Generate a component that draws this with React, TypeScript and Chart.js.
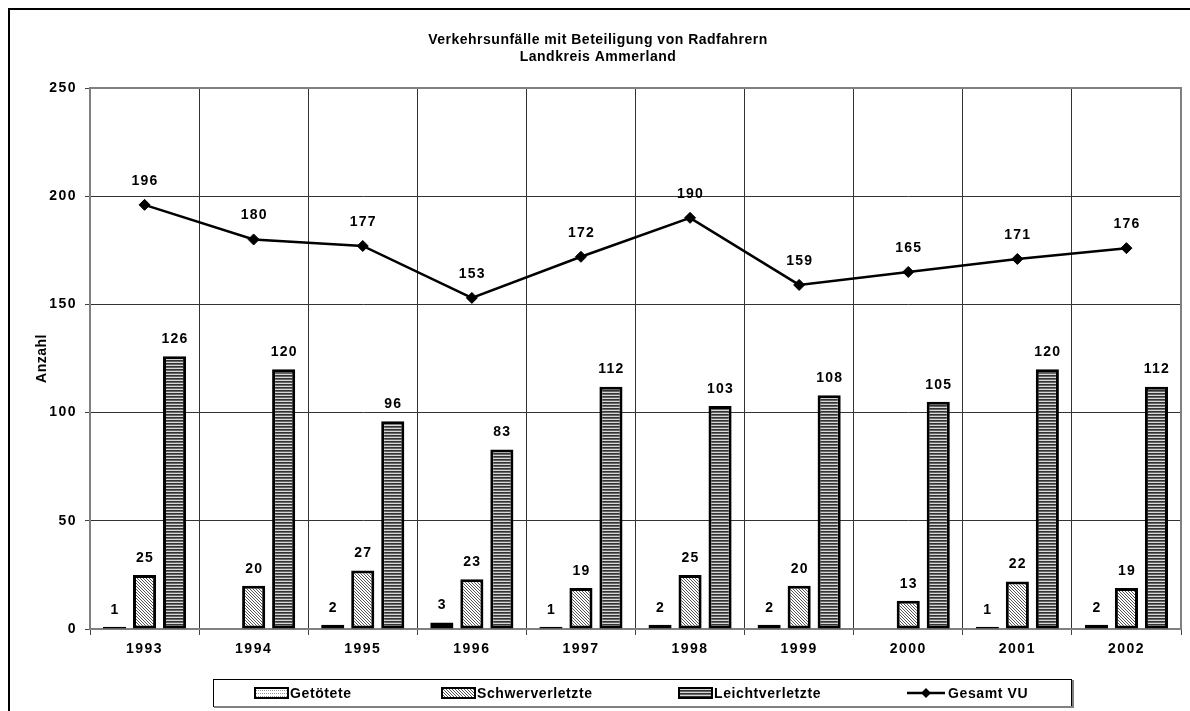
import React, { useEffect, useRef } from 'react';
import { Chart, registerables } from 'chart.js';

Chart.register(...registerables);

const years = ['1993', '1994', '1995', '1996', '1997', '1998', '1999', '2000', '2001', '2002'];
const getoetete: (number | null)[] = [1, null, 2, 3, 1, 2, 2, null, 1, 2];
const schwerverletzte = [25, 20, 27, 23, 19, 25, 20, 13, 22, 19];
const leichtverletzte = [126, 120, 96, 83, 112, 103, 108, 105, 120, 112];
const gesamtVU = [196, 180, 177, 153, 172, 190, 159, 165, 171, 176];
const seriesNames = ['Getötete', 'Schwerverletzte', 'Leichtverletzte', 'Gesamt VU'];
const titleLines = ['Verkehrsunfälle mit Beteiligung von Radfahrern', 'Landkreis Ammerland'];
const yAxisTitle = 'Anzahl';
const yMin = 0;
const yMax = 250;
const yStep = 50;

const FONT = '"Liberation Sans", Arial, sans-serif';

function makePattern(ctx: CanvasRenderingContext2D, kind: string): CanvasPattern | string {
  const c = document.createElement('canvas');
  const p = c.getContext('2d')!;
  if (kind === 'dots') {
    c.width = 4; c.height = 3;
    p.fillStyle = '#fff'; p.fillRect(0, 0, 4, 3);
    p.fillStyle = '#9a9a9a'; p.fillRect(0, 0, 1, 1); p.fillRect(2, 0, 1, 1);
  } else if (kind === 'diag') {
    c.width = 3; c.height = 3;
    p.fillStyle = '#fff'; p.fillRect(0, 0, 3, 3);
    p.fillStyle = '#555';
    for (let i = 0; i < 3; i++) p.fillRect(i, i, 1, 1);
  } else {
    c.width = 1; c.height = 3;
    p.fillStyle = '#333'; p.fillRect(0, 0, 1, 1);
    p.fillStyle = '#666'; p.fillRect(0, 1, 1, 1);
    p.fillStyle = '#d8d8d8'; p.fillRect(0, 2, 1, 1);
  }
  return ctx.createPattern(c, 'repeat') || '#888';
}

export default function App() {
  const ref = useRef<HTMLCanvasElement | null>(null);

  useEffect(() => {
    const canvas = ref.current!;
    const ctx0 = canvas.getContext('2d')!;
    const pDots = makePattern(ctx0, 'dots');
    const pDiag = makePattern(ctx0, 'diag');
    const pStripe = makePattern(ctx0, 'stripe');
    const fills = [pDots, pDiag, pStripe];

    const decor = {
      id: 'decor',
      beforeDraw(chart: any) {
        const c = chart.ctx;
        c.save();
        c.fillStyle = '#fff';
        c.fillRect(0, 0, chart.width, chart.height);
        c.restore();
        (c as any).letterSpacing = '1.5px';
      },
      beforeDatasetsDraw(chart: any) {
        const c = chart.ctx;
        const a = chart.chartArea;
        c.save();
        (c as any).letterSpacing = '0px';
        c.strokeStyle = '#808080';
        c.lineWidth = 2;
        c.beginPath();
        c.moveTo(a.left, a.top);
        c.lineTo(a.right, a.top);
        c.lineTo(a.right, a.bottom);
        c.stroke();
        c.restore();
      },
      afterDraw(chart: any) {
        const c = chart.ctx;
        const a = chart.chartArea;
        c.save();
        (c as any).letterSpacing = '0px';
        // outer border
        c.strokeStyle = '#000';
        c.lineWidth = 2;
        c.strokeRect(9, 9, 1400, 900);

        // title
        c.fillStyle = '#000';
        c.textAlign = 'center';
        c.textBaseline = 'middle';
        c.font = `bold 14px ${FONT}`;
        (c as any).letterSpacing = '0.5px';
        c.fillText(titleLines[0], 598, 40);
        c.fillText(titleLines[1], 598, 57);

        // y axis title
        c.save();
        c.translate(42, (a.top + a.bottom) / 2);
        c.rotate(-Math.PI / 2);
        c.font = `bold 14px ${FONT}`;
        (c as any).letterSpacing = '0.5px';
        c.fillText(yAxisTitle, 0, 0);
        c.restore();

        // data labels
        c.font = `bold 14px ${FONT}`;
        (c as any).letterSpacing = '1.2px';
        chart.data.datasets.forEach((ds: any, di: number) => {
          const meta = chart.getDatasetMeta(di);
          meta.data.forEach((el: any, i: number) => {
            const v = ds.data[i];
            if (v === null || v === undefined) return;
            const off = ds.type === 'line' ? 24 : 17;
            c.fillText(String(v), el.x + 0.5, el.y - off);
          });
        });

        // legend
        c.lineWidth = 1;
        c.strokeStyle = '#000';
        c.strokeRect(213.5, 679.5, 858, 27);
        c.strokeStyle = '#808080';
        c.lineWidth = 2;
        c.beginPath();
        c.moveTo(214, 707);
        c.lineTo(1073, 707);
        c.lineTo(1073, 680);
        c.stroke();

        const ly = 693;
        const swX = [255, 442, 679];
        c.font = `bold 14px ${FONT}`;
        (c as any).letterSpacing = '0.6px';
        c.textAlign = 'left';
        for (let k = 0; k < 3; k++) {
          c.fillStyle = fills[k] as any;
          c.fillRect(swX[k], ly - 5, 33, 10);
          c.strokeStyle = '#000';
          c.lineWidth = 2;
          c.strokeRect(swX[k], ly - 5, 33, 10);
          c.fillStyle = '#000';
          c.fillText(seriesNames[k], swX[k] + 35, ly + 1);
        }
        c.strokeStyle = '#000';
        c.lineWidth = 2.5;
        c.beginPath();
        c.moveTo(907, ly);
        c.lineTo(945, ly);
        c.stroke();
        c.beginPath();
        c.moveTo(926, ly - 5);
        c.lineTo(931, ly);
        c.lineTo(926, ly + 5);
        c.lineTo(921, ly);
        c.closePath();
        c.fillStyle = '#000';
        c.fill();
        c.fillText(seriesNames[3], 948, ly + 1);
        c.restore();
      },
    };

    const tickFont = { family: FONT, size: 14, weight: 'bold' as const };

    const chart = new Chart(canvas, {
      type: 'bar',
      data: {
        labels: years,
        datasets: [
          { label: seriesNames[0], data: getoetete, backgroundColor: pDots as any, borderColor: '#000', borderWidth: 3, borderSkipped: false, order: 1 },
          { label: seriesNames[1], data: schwerverletzte, backgroundColor: pDiag as any, borderColor: '#000', borderWidth: 3, borderSkipped: false, order: 1 },
          { label: seriesNames[2], data: leichtverletzte, backgroundColor: pStripe as any, borderColor: '#000', borderWidth: 3, borderSkipped: false, order: 1 },
          {
            type: 'line' as any,
            label: seriesNames[3],
            data: gesamtVU,
            borderColor: '#000',
            backgroundColor: '#000',
            borderWidth: 2.5,
            pointStyle: 'rectRot',
            pointRadius: 5.5,
            pointBackgroundColor: '#000',
            pointBorderColor: '#000',
            pointBorderWidth: 1,
            tension: 0,
            fill: false,
            order: 0,
          } as any,
        ],
      },
      options: {
        responsive: false,
        animation: false,
        devicePixelRatio: 1,
        layout: { padding: { left: 8, right: 9, top: 88, bottom: 52 } },
        datasets: { bar: { categoryPercentage: 0.825, barPercentage: 0.77 } } as any,
        plugins: {
          legend: { display: false },
          title: { display: false },
          tooltip: { enabled: false },
        },
        scales: {
          x: {
            offset: true,
            grid: { offset: true, color: '#333', lineWidth: 1, tickLength: 6, tickColor: '#444', drawTicks: true },
            border: { color: '#808080', width: 2 },
            ticks: { font: tickFont, color: '#000', padding: 6, maxRotation: 0, autoSkip: false },
            afterFit: (s: any) => { s.height = 30; },
          },
          y: {
            min: yMin,
            max: yMax,
            grid: { color: '#333', lineWidth: 1, tickLength: 5, tickColor: '#444' },
            border: { color: '#808080', width: 2 },
            ticks: { stepSize: yStep, font: tickFont, color: '#000', padding: 8 },
            afterFit: (s: any) => { s.width = 82; },
          },
        },
      },
      plugins: [decor],
    });

    return () => chart.destroy();
  }, []);

  return (
    <div style={{ position: 'fixed', left: 0, top: 0, width: 1190, height: 711, background: '#fff' }}>
      <canvas ref={ref} width={1190} height={711} style={{ display: 'block', width: 1190, height: 711 }} />
    </div>
  );
}
